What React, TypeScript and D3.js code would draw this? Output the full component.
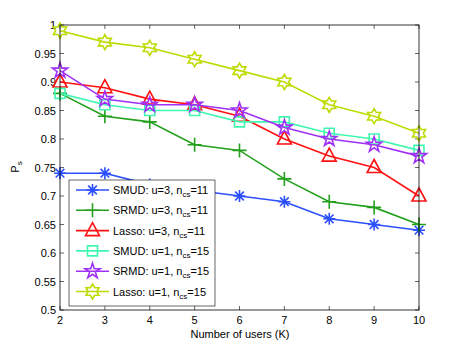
import React, { useRef, useEffect } from 'react';
import * as d3 from 'd3';

const users = [2, 3, 4, 5, 6, 7, 8, 9, 10];
const smudU3 = [0.74, 0.74, 0.72, 0.71, 0.70, 0.69, 0.66, 0.65, 0.64];
const srmdU3 = [0.88, 0.84, 0.83, 0.79, 0.78, 0.73, 0.69, 0.68, 0.65];
const lassoU3 = [0.90, 0.89, 0.87, 0.86, 0.84, 0.80, 0.77, 0.75, 0.70];
const smudU1 = [0.88, 0.86, 0.85, 0.85, 0.83, 0.83, 0.81, 0.80, 0.78];
const srmdU1 = [0.92, 0.87, 0.86, 0.86, 0.85, 0.82, 0.80, 0.79, 0.77];
const lassoU1 = [0.99, 0.97, 0.96, 0.94, 0.92, 0.90, 0.86, 0.84, 0.81];
const yTicks = [0.5, 0.55, 0.6, 0.65, 0.7, 0.75, 0.8, 0.85, 0.9, 0.95, 1];

const seriesList = [
  { name: 'SMUD: u=3, n', sub: 'cs', tail: '=11', values: smudU3, color: '#2b4fff', marker: 'asterisk' },
  { name: 'SRMD: u=3, n', sub: 'cs', tail: '=11', values: srmdU3, color: '#22a01c', marker: 'plus' },
  { name: 'Lasso: u=3, n', sub: 'cs', tail: '=11', values: lassoU3, color: '#ff1010', marker: 'triangle' },
  { name: 'SMUD: u=1, n', sub: 'cs', tail: '=15', values: smudU1, color: '#40f7b0', marker: 'square' },
  { name: 'SRMD: u=1, n', sub: 'cs', tail: '=15', values: srmdU1, color: '#a030f8', marker: 'pentagram' },
  { name: 'Lasso: u=1, n', sub: 'cs', tail: '=15', values: lassoU1, color: '#bddb00', marker: 'hexagram' },
];

// outline star path centered at 0,0
const starPath = (n: number, r: number, ri: number, rot: number) => {
  const pts: [number, number][] = [];
  for (let i = 0; i < n * 2; i++) {
    const a = rot + (Math.PI * i) / n;
    const rr = i % 2 === 0 ? r : ri;
    pts.push([rr * Math.cos(a), rr * Math.sin(a)]);
  }
  return 'M' + pts.map(p => p.join(',')).join('L') + 'Z';
};

const markerPath = (m: string) => {
  switch (m) {
    case 'asterisk': {
      const r = 6;
      const d = r * 0.72;
      return `M${-r},0L${r},0M0,${-r}L0,${r}M${-d},${-d}L${d},${d}M${-d},${d}L${d},${-d}`;
    }
    case 'plus':
      return 'M-7,0L7,0M0,-7L0,7';
    case 'triangle':
      return 'M0,-8L7,5L-7,5Z';
    case 'square':
      return 'M-5,-5L5,-5L5,5L-5,5Z';
    case 'pentagram':
      return starPath(5, 8, 8 * 0.382, -Math.PI / 2);
    case 'hexagram':
      return starPath(6, 7.5, 7.5 * 0.577, -Math.PI / 2);
  }
  return '';
};

const App = () => {
  const svgRef = useRef<SVGSVGElement>(null);

  useEffect(() => {
    const svg = d3.select(svgRef.current);
    svg.selectAll('*').remove();
    const left = 60, right = 419, top = 25, bottom = 310;

    const x = d3.scaleLinear().domain([2, 10]).range([left, right]);
    const y = d3.scaleLinear().domain([0.5, 1]).range([bottom, top]);
    const font = 'Liberation Sans, Arial, Helvetica, sans-serif';

    svg.append('rect').attr('width', 463).attr('height', 349).attr('fill', '#fff');

    // ticks inside
    const g = svg.append('g').attr('stroke', '#000').attr('stroke-width', 0.6);
    users.forEach(u => {
      g.append('line').attr('x1', x(u)).attr('x2', x(u)).attr('y1', bottom).attr('y2', bottom - 4);
      g.append('line').attr('x1', x(u)).attr('x2', x(u)).attr('y1', top).attr('y2', top + 4);
    });
    yTicks.forEach(t => {
      g.append('line').attr('x1', left).attr('x2', left + 4).attr('y1', y(t)).attr('y2', y(t));
      g.append('line').attr('x1', right).attr('x2', right - 4).attr('y1', y(t)).attr('y2', y(t));
    });

    svg.append('g').selectAll('text').data(users).join('text')
      .attr('x', d => x(d)).attr('y', bottom + 14)
      .attr('text-anchor', 'middle').attr('font-size', 11).attr('font-family', font)
      .text(d => d);
    svg.append('g').selectAll('text').data(yTicks).join('text')
      .attr('x', left - 4).attr('y', d => y(d) + 4)
      .attr('text-anchor', 'end').attr('font-size', 11).attr('font-family', font)
      .text(d => d3.format('')(+d.toFixed(2)));

    svg.append('text').attr('x', 240).attr('y', 338).attr('text-anchor', 'middle')
      .attr('font-size', 11).attr('font-family', font).text('Number of users (K)');

    const yl = svg.append('text').attr('transform', 'translate(19,167) rotate(-90)')
      .attr('text-anchor', 'middle').attr('font-size', 11).attr('font-family', font);
    yl.append('tspan').text('P');
    yl.append('tspan').attr('font-size', 8).attr('dy', 3).text('s');

    const line = d3.line<number>().x((_, i) => x(users[i])).y(d => y(d));

    seriesList.forEach(s => {
      svg.append('path').attr('d', line(s.values)).attr('fill', 'none')
        .attr('stroke', s.color).attr('stroke-width', 1.6);
      svg.append('g').selectAll('path').data(s.values).join('path')
        .attr('transform', (d, i) => `translate(${x(users[i])},${y(d)})`)
        .attr('d', markerPath(s.marker)).attr('fill', 'none')
        .attr('stroke', s.color).attr('stroke-width', 1.6);
    });

    // box
    svg.append('rect').attr('x', left).attr('y', top).attr('width', right - left).attr('height', bottom - top)
      .attr('fill', 'none').attr('stroke', '#000').attr('stroke-width', 0.8);

    // legend
    const lg = svg.append('g');
    lg.append('rect').attr('x', 69).attr('y', 180).attr('width', 146).attr('height', 126)
      .attr('fill', '#fff').attr('stroke', '#000').attr('stroke-width', 0.6);
    seriesList.forEach((s, i) => {
      const ry = 190 + i * 20.3;
      lg.append('line').attr('x1', 76).attr('x2', 109).attr('y1', ry).attr('y2', ry)
        .attr('stroke', s.color).attr('stroke-width', 1.6);
      lg.append('path').attr('transform', `translate(92.5,${ry})`).attr('d', markerPath(s.marker))
        .attr('fill', 'none').attr('stroke', s.color).attr('stroke-width', 1.6);
      const t = lg.append('text').attr('x', 113).attr('y', ry + 4)
        .attr('font-size', 11).attr('font-family', font);
      t.append('tspan').text(s.name);
      t.append('tspan').attr('font-size', 8).attr('dy', 3).text(s.sub);
      t.append('tspan').attr('dy', -3).text(s.tail);
    });
  }, []);

  return <svg ref={svgRef} width={463} height={349} style={{ display: 'block', position: 'absolute', left: 0, top: 0 }} />;
};

export default App;
